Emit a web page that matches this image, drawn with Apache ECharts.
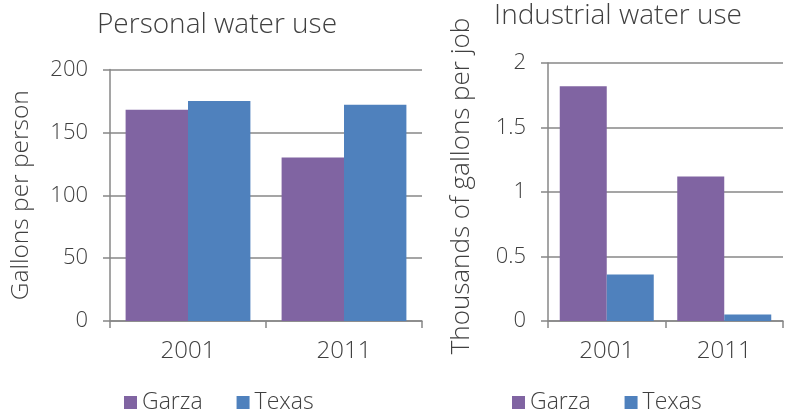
<!DOCTYPE html>
<html>
<head>
<meta charset="utf-8">
<script src="https://cdn.jsdelivr.net/npm/echarts@6/dist/echarts.min.js"></script>
<style>
  html, body { margin: 0; padding: 0; background: #fff; }
  #chart { width: 792px; height: 417px; }
</style>
</head>
<body>
<div id="chart"></div>
<script>
// Chart data
const years = ['2001', '2011'];
const personalGarza = [168, 130];
const personalTexas = [175, 172];
const industrialGarza = [1.82, 1.12];
const industrialTexas = [0.36, 0.05];

const purple = '#8064A2';
const blue = '#4F81BD';
const gray = '#878787';
const textColor = '#404040';
const fontFamily = '"Open Sans", "Noto Sans", sans-serif';

function makeXAxis(gridIndex) {
    return {
        type: 'category',
        gridIndex: gridIndex,
        data: years,
        axisLine: { lineStyle: { color: gray, width: 1.5 } },
        axisTick: { show: true, length: 7, lineStyle: { color: gray, width: 1.5 } },
        axisLabel: { color: textColor, fontSize: 24, fontWeight: 300, fontFamily: fontFamily, margin: 18 }
    };
}

function makeYAxis(gridIndex, name, max, interval, nameGap, nameSize, namePad) {
    return {
        type: 'value',
        gridIndex: gridIndex,
        min: 0,
        max: max,
        interval: interval,
        name: name,
        nameLocation: 'middle',
        nameRotate: 90,
        nameGap: nameGap,
        nameTextStyle: { color: textColor, fontSize: nameSize, fontWeight: 300, fontFamily: fontFamily, padding: namePad },
        axisLine: { show: true, lineStyle: { color: gray, width: 1.5 } },
        axisTick: { show: true, length: 7, lineStyle: { color: gray, width: 1.5 } },
        splitLine: { lineStyle: { color: gray, width: 1.5 } },
        axisLabel: { color: textColor, fontSize: 22, fontWeight: 300, fontFamily: fontFamily, margin: 22 }
    };
}

function makeLegend(left) {
    return {
        left: left,
        top: 391,
        padding: 0,
        icon: 'rect',
        itemWidth: 13,
        itemHeight: 13,
        itemGap: 34,
        data: ['Garza', 'Texas'],
        textStyle: { color: textColor, fontSize: 23, fontWeight: 300, fontFamily: fontFamily }
    };
}

const chart = echarts.init(document.getElementById('chart'));

chart.setOption({
    animation: false,
    backgroundColor: '#fff',
    title: [
        {
            text: 'Personal water use',
            left: 212,
            top: 6,
            textAlign: 'center',
            textStyle: { color: textColor, fontSize: 28, fontWeight: 300, fontFamily: fontFamily }
        },
        {
            text: 'Industrial water use',
            left: 613,
            top: -3,
            textAlign: 'center',
            textStyle: { color: textColor, fontSize: 28, fontWeight: 300, fontFamily: fontFamily }
        }
    ],
    legend: [makeLegend(124), makeLegend(512)],
    grid: [
        { left: 110, right: 370, top: 69.5, bottom: 96 },
        { left: 548, right: 9, top: 63, bottom: 96 }
    ],
    xAxis: [makeXAxis(0), makeXAxis(1)],
    yAxis: [
        makeYAxis(0, 'Gallons per person', 200, 50, 76, 24.5, 0),
        makeYAxis(1, 'Thousands of gallons per job', 2, 0.5, 73, 26, [0, 0, 0, 12])
    ],
    series: [
        { name: 'Garza', type: 'bar', xAxisIndex: 0, yAxisIndex: 0, data: personalGarza,
          itemStyle: { color: purple }, barGap: '0%', barCategoryGap: '20%' },
        { name: 'Texas', type: 'bar', xAxisIndex: 0, yAxisIndex: 0, data: personalTexas,
          itemStyle: { color: blue }, barGap: '0%', barCategoryGap: '20%' },
        { name: 'Garza', type: 'bar', xAxisIndex: 1, yAxisIndex: 1, data: industrialGarza,
          itemStyle: { color: purple }, barGap: '0%', barCategoryGap: '20%' },
        { name: 'Texas', type: 'bar', xAxisIndex: 1, yAxisIndex: 1, data: industrialTexas,
          itemStyle: { color: blue }, barGap: '0%', barCategoryGap: '20%' }
    ]
});
</script>
</body>
</html>
